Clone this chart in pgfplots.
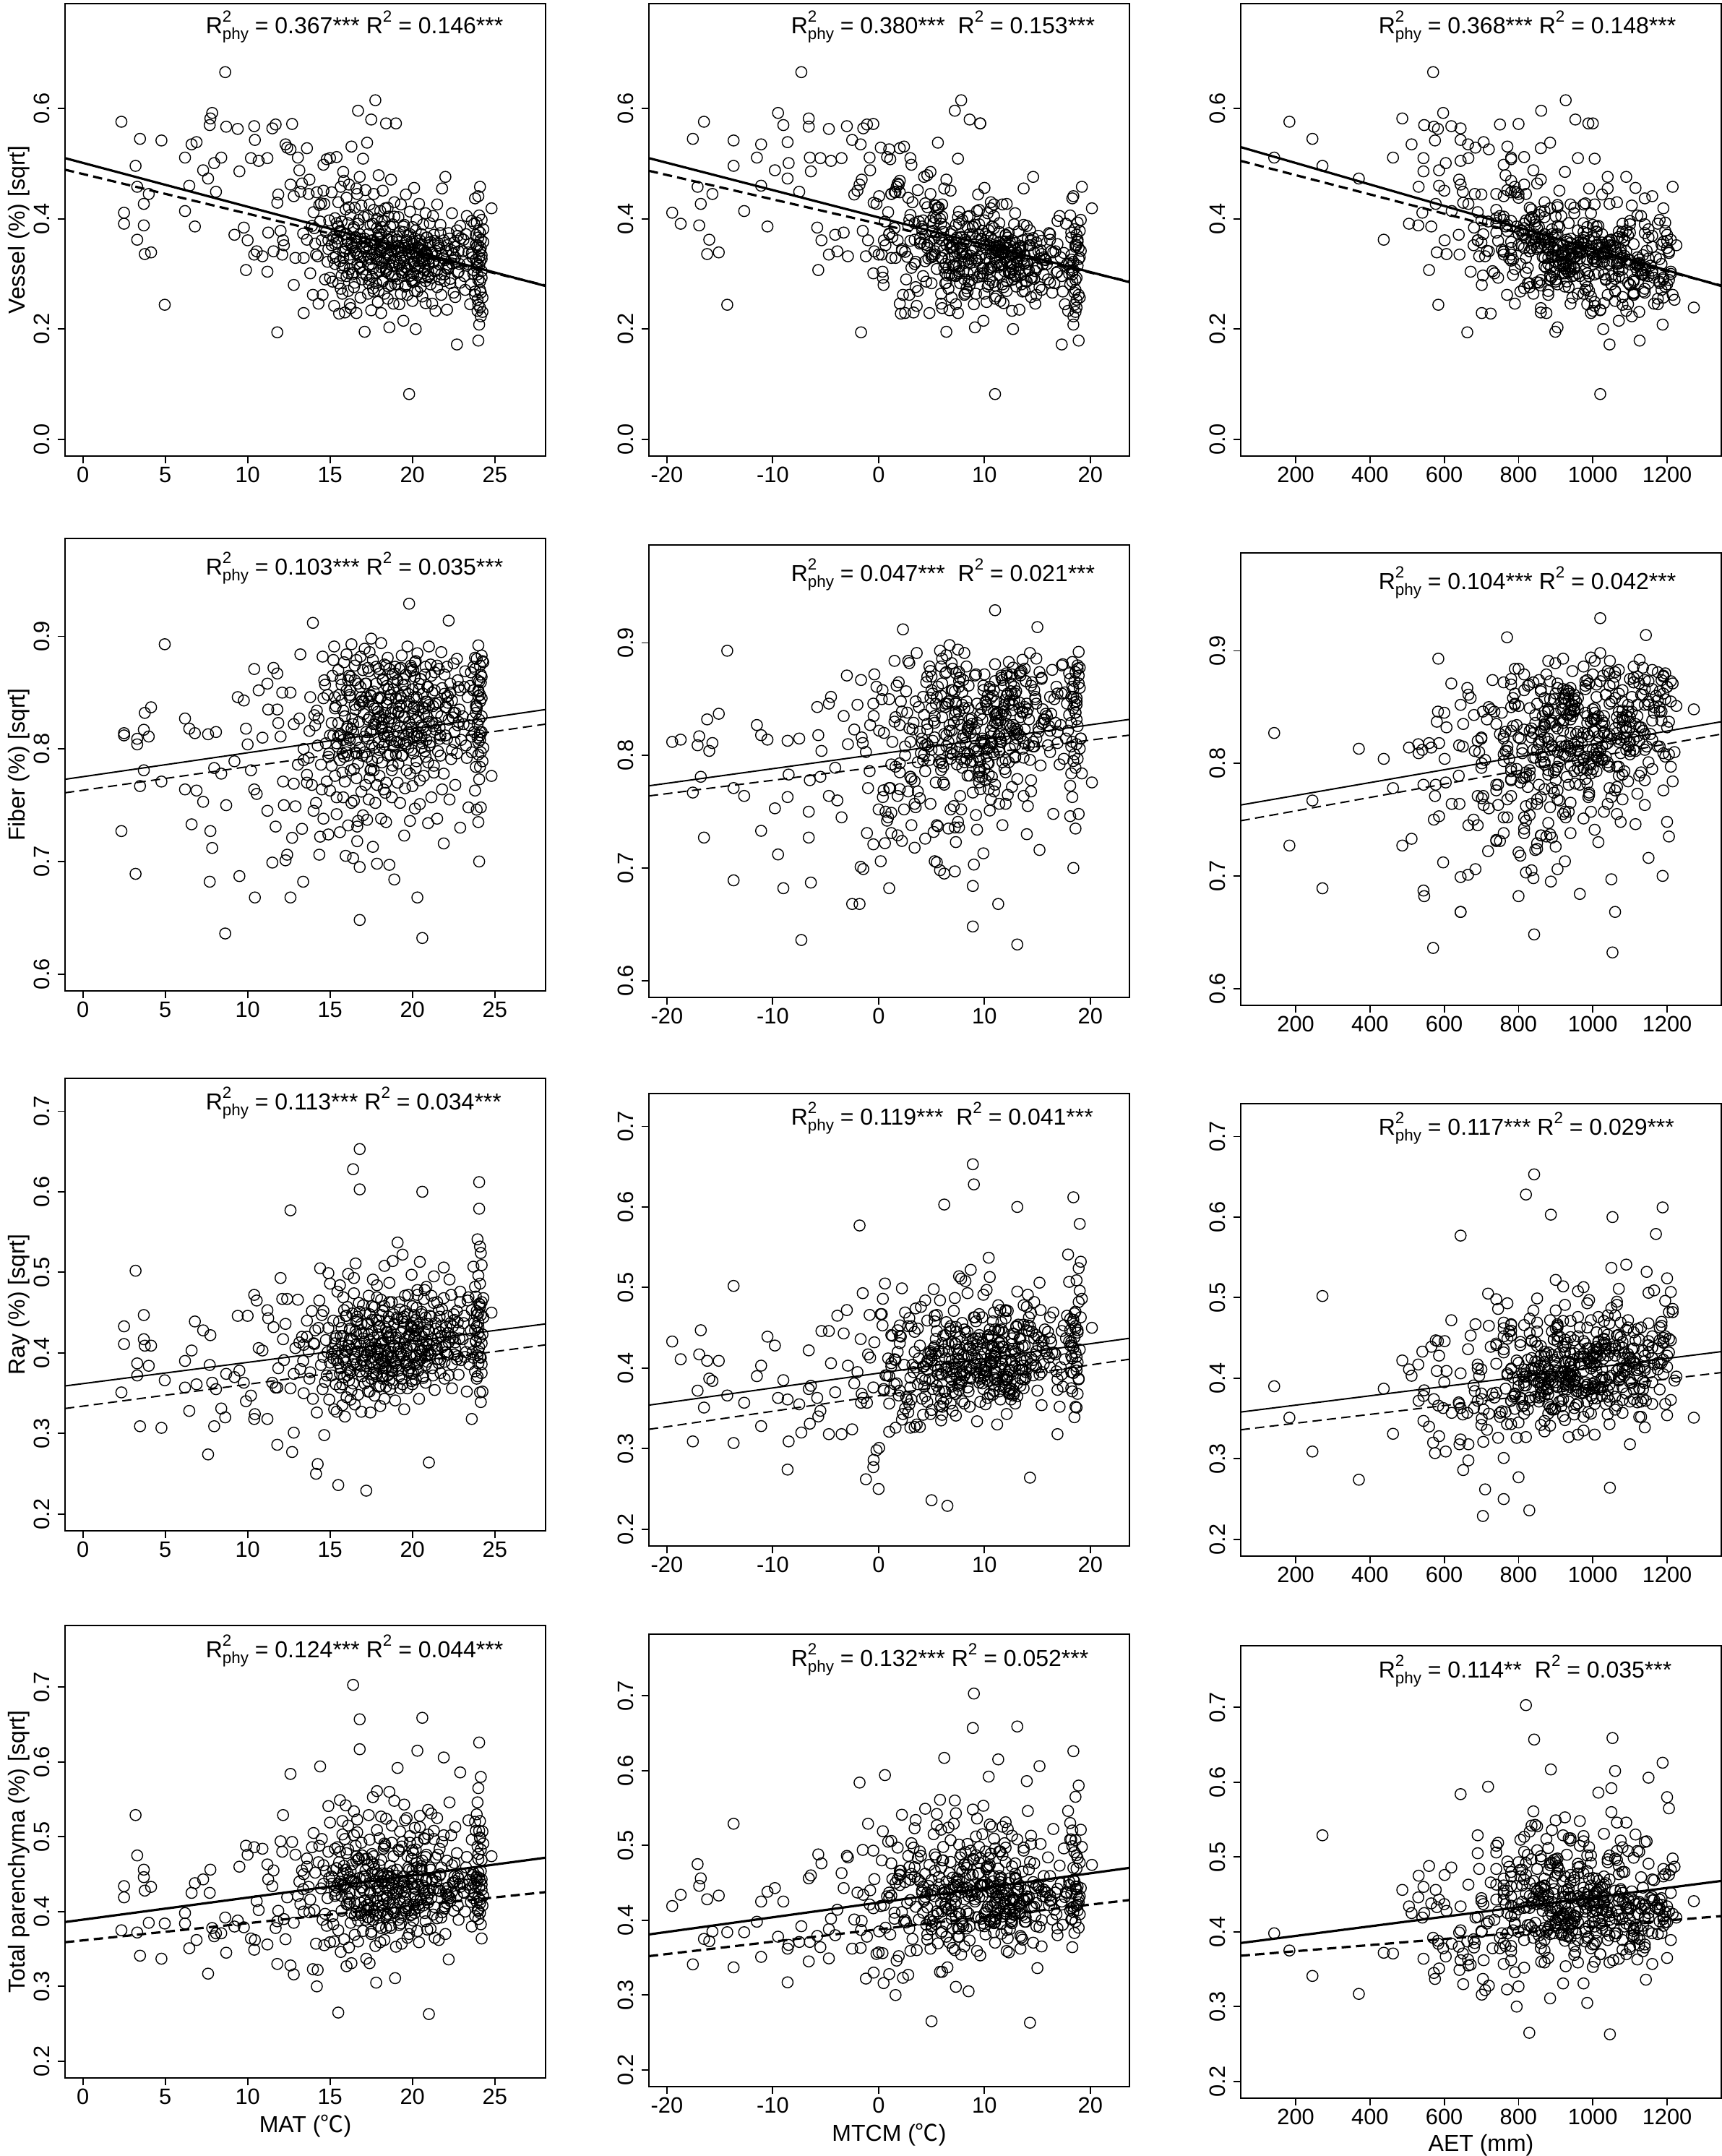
\documentclass[border=0pt]{standalone}
\usepackage{pgfplots}
\usepackage{pgfplotstable}
\pgfplotsset{compat=1.18}
\usepackage{fontspec}
\setmainfont{Liberation Sans}
\newfontfamily\cjk{Noto Sans CJK SC}
\newcommand{\scr}{\fontsize{5.6}{6}\selectfont}
\newcommand{\Rphy}{R\rlap{\raisebox{0.5em}{\scr 2}}\raisebox{-0.25em}{\scr phy}}
\newcommand{\Rsq}{R\raisebox{0.5em}{\scr 2}}
\newcommand{\annot}[2]{\node[anchor=base west, inner sep=0pt, font=\fontsize{8}{9}\selectfont] at (axis description cs:#1) {#2};}

\pgfplotstableread{
mat mtcm aet v f r p
2.34 -16.5 183 0.576 0.727 0.351 0.375
2.5 -19.5 541 0.411 0.812 0.433 0.419
2.5 -18.7 505 0.391 0.814 0.411 0.434
3.2 -13.7 272 0.496 0.689 0.502 0.529
3.3 -17.1 531 0.458 0.809 0.372 0.475
3.3 -16.0 437 0.362 0.804 0.387 0.372
3.47 -17.55 245 0.545 0.767 0.309 0.341
3.7 -16.8 577 0.427 0.781 0.447 0.456
3.7 -16.95 530 0.388 0.817 0.417 0.446
3.76 -16.2 606 0.336 0.832 0.409 0.428
4.0 -15.7 682 0.445 0.811 0.384 0.385
4.14 -15.1 580 0.339 0.837 0.409 0.433
4.77 -13.7 575 0.542 0.771 0.307 0.337
4.97 -14.3 584 0.244 0.893 0.366 0.384
6.2 -11.5 142 0.511 0.827 0.390 0.398
6.2 -12.7 620 0.414 0.764 0.357 0.384
6.46 -11.1 586 0.460 0.818 0.328 0.351
6.6 -11.1 512 0.535 0.733 0.403 0.425
6.8 -10.5 565 0.386 0.814 0.439 0.438
6.9 -8.6 706 0.539 0.763 0.361 0.362
7.3 -9.8 586 0.488 0.753 0.428 0.443
7.6 -8.6 370 0.473 0.813 0.274 0.317
7.7 -9.0 546 0.570 0.682 0.385 0.425
7.74 -6.6 487 0.582 0.727 0.422 0.456
7.85 -9.5 597 0.592 0.712 0.363 0.378
7.97 -8.5 604 0.501 0.783 0.309 0.367
8.08 -7.5 650 0.449 0.815 0.355 0.371
8.4 -6.5 462 0.511 0.778 0.331 0.371
8.7 -6.6 572 0.567 0.750 0.374 0.345
8.64 -7.3 570 0.666 0.636 0.320 0.392
9.4 -4.7 583 0.563 0.846 0.446 0.388
9.5 -6.4 544 0.486 0.687 0.378 0.460
9.2 -4.1 639 0.371 0.789 0.370 0.380
9.77 -5.8 680 0.384 0.843 0.363 0.379
9.9 -5.7 559 0.307 0.818 0.340 0.488
10.0 -5.4 601 0.361 0.804 0.446 0.476
10.2 -5.5 544 0.510 0.781 0.347 0.364
10.4 -3.0 619 0.568 0.871 0.472 0.486
10.44 -2.5 644 0.543 0.668 0.324 0.362
10.4 -4.7 641 0.335 0.764 0.318 0.349
10.67 -4.5 644 0.505 0.852 0.406 0.402
10.55 -3.9 720 0.341 0.760 0.465 0.414
10.9 -2.9 694 0.332 0.810 0.403 0.484
11.2 -3.5 665 0.510 0.745 0.318 0.463
11.2 0.37 671 0.304 0.858 0.453 0.356
11.25 -3.3 740 0.375 0.835 0.443 0.443
11.5 -1.45 644 0.564 0.699 0.363 0.434
11.7 -1.1 750 0.571 0.731 0.357 0.378
11.57 -0.4 760 0.341 0.872 0.432 0.455
11.8 -0.47 651 0.429 0.835 0.286 0.330
11.86 -2.3 700 0.444 0.823 0.381 0.401
11.8 -1.66 662 0.194 0.867 0.357 0.387
12.0 -1.5 770 0.378 0.811 0.493 0.494
12.1 0.3 780 0.335 0.850 0.467 0.480
12.15 -1.0 690 0.361 0.771 0.417 0.529
12.2 0.65 679 0.352 0.750 0.391 0.390
12.3 -1.7 664 0.535 0.701 0.436 0.363
12.4 0.2 684 0.529 0.706 0.467 0.419
12.6 1.0 720 0.526 0.850 0.356 0.328
12.7 -0.5 800 0.572 0.721 0.277 0.493
12.6 -1.8 644 0.462 0.668 0.577 0.584
12.8 0.05 760 0.441 0.822 0.301 0.385
12.8 0.47 701 0.280 0.769 0.374 0.316
12.9 1.2 820 0.329 0.749 0.406 0.476
13.05 -0.85 780 0.511 0.786 0.466 0.421
13.14 -0.8 840 0.488 0.827 0.413 0.440
13.2 1.5 790 0.449 0.884 0.380 0.410
13.3 1.8 850 0.464 0.729 0.420 0.455
13.37 1.0 800 0.373 0.682 0.390 0.430
13.4 2.5 701 0.229 0.800 0.350 0.400
13.4 1.6 880 0.329 0.790 0.410 0.450
13.6 2.0 860 0.528 0.770 0.440 0.460
13.7 1.2 820 0.445 0.792 0.402 0.433
13.8 -0.5 735 0.301 0.846 0.376 0.416
13.9 2.8 905 0.387 0.768 0.452 0.486
13.96 2.3 769 0.262 0.912 0.343 0.323
14.0 0.9 690 0.412 0.745 0.412 0.505
14.1 3.9 860 0.355 0.821 0.428 0.452
14.2 1.6 795 0.448 0.834 0.326 0.300
14.25 -1.2 710 0.332 0.803 0.262 0.322
14.3 2.0 940 0.246 0.827 0.431 0.466
14.4 0.6 718 0.395 0.722 0.505 0.594
14.45 4.4 980 0.428 0.786 0.385 0.431
14.5 1.8 835 0.361 0.764 0.447 0.497
14.6 3.1 760 0.498 0.738 0.452 0.462
14.65 -0.2 665 0.427 0.861 0.298 0.355
14.7 2.6 885 0.290 0.857 0.364 0.397
14.75 5.0 1010 0.376 0.805 0.416 0.454
14.8 1.1 780 0.508 0.771 0.372 0.381
14.85 3.5 920 0.322 0.848 0.401 0.418
14.9 2.2 850 0.345 0.724 0.499 0.541
14.95 4.2 700 0.397 0.796 0.342 0.445
15.0 0.4 745 0.293 0.763 0.486 0.519
15.0 3.0 960 0.510 0.812 0.388 0.359
13.6 3.4 870 0.362 0.777 0.420 0.471
13.75 -1.6 640 0.471 0.816 0.368 0.399
14.15 0.0 760 0.335 0.752 0.250 0.357
14.55 2.9 1040 0.262 0.882 0.355 0.389
14.35 5.3 905 0.425 0.706 0.465 0.488
14.05 1.5 815 0.383 0.830 0.411 0.402
14.9 6.0 1085 0.361 0.793 0.431 0.480
14.6 -2.0 600 0.451 0.845 0.395 0.437
15.1 2.0 780 0.448 0.785 0.372 0.447
15.15 4.5 930 0.286 0.865 0.405 0.394
15.2 1.3 850 0.367 0.812 0.440 0.455
15.25 3.6 1005 0.242 0.891 0.330 0.360
15.3 5.4 740 0.401 0.776 0.418 0.484
15.35 2.7 890 0.331 0.838 0.361 0.423
15.4 0.8 815 0.512 0.742 0.391 0.432
15.45 4.0 960 0.357 0.802 0.476 0.486
15.5 5.0 829 0.283 0.870 0.236 0.265
15.5 3.2 870 0.430 0.823 0.404 0.375
15.55 2.1 725 0.228 0.848 0.439 0.466
15.6 6.1 1080 0.376 0.790 0.357 0.480
15.6 4.4 900 0.323 0.726 0.484 0.549
15.65 1.7 790 0.458 0.862 0.381 0.346
15.7 3.8 845 0.395 0.843 0.412 0.401
15.75 5.9 975 0.264 0.796 0.335 0.521
15.8 2.5 760 0.340 0.808 0.469 0.451
15.8 4.9 925 0.485 0.757 0.421 0.434
15.85 7.0 1120 0.315 0.877 0.370 0.363
15.9 3.3 860 0.230 0.829 0.395 0.497
15.9 1.0 705 0.372 0.771 0.321 0.437
15.95 5.5 835 0.417 0.705 0.446 0.542
16.0 4.2 945 0.296 0.852 0.402 0.410
16.0 2.8 800 0.438 0.884 0.345 0.327
16.05 6.4 1010 0.353 0.818 0.457 0.452
16.1 3.7 880 0.269 0.794 0.380 0.483
16.1 5.2 740 0.392 0.732 0.498 0.515
16.15 1.9 815 0.462 0.865 0.366 0.352
16.2 4.7 965 0.328 0.808 0.418 0.446
16.2 7.3 1095 0.245 0.846 0.430 0.425
16.25 3.0 855 0.407 0.781 0.376 0.454
16.3 5.8 920 0.351 0.893 0.353 0.331
16.3 2.4 770 0.531 0.752 0.404 0.398
16.35 6.7 1030 0.299 0.827 0.449 0.463
16.4 9.0 820 0.302 0.703 0.628 0.703
16.4 4.1 890 0.381 0.815 0.362 0.440
16.45 3.5 830 0.276 0.754 0.474 0.534
16.5 5.6 950 0.420 0.861 0.392 0.369
16.5 2.2 715 0.342 0.839 0.336 0.411
16.55 7.8 1070 0.367 0.797 0.511 0.488
16.6 4.8 875 0.229 0.879 0.386 0.400
16.6 6.2 990 0.455 0.774 0.423 0.437
16.65 3.4 805 0.318 0.718 0.445 0.523
16.7 7.2 861 0.596 0.736 0.401 0.360
16.7 5.0 925 0.335 0.858 0.348 0.388
16.75 2.9 760 0.398 0.824 0.462 0.471
16.8 8.9 842 0.372 0.648 0.653 0.657
16.8 6.2 887 0.311 0.695 0.603 0.617
16.8 4.3 1040 0.476 0.801 0.377 0.426
16.85 6.9 945 0.257 0.882 0.409 0.412
16.9 3.9 820 0.364 0.762 0.327 0.492
16.9 5.4 1105 0.424 0.846 0.436 0.395
16.95 8.1 900 0.290 0.794 0.391 0.475
17.0 4.6 780 0.347 0.870 0.459 0.374
17.0 7.5 1005 0.509 0.741 0.418 0.447
15.2 5.9 1000 0.329 0.879 0.393 0.383
15.4 3.4 935 0.392 0.757 0.327 0.458
15.65 6.6 1140 0.273 0.812 0.421 0.436
15.85 2.0 780 0.469 0.793 0.453 0.461
16.05 0.5 690 0.361 0.820 0.372 0.420
16.25 6.0 860 0.238 0.864 0.342 0.385
16.45 8.4 985 0.385 0.782 0.493 0.502
16.65 1.2 740 0.445 0.731 0.441 0.506
16.85 5.1 955 0.332 0.855 0.384 0.398
15.3 4.3 885 0.354 0.836 0.402 0.428
15.75 3.1 825 0.311 0.779 0.361 0.503
16.15 4.6 905 0.421 0.810 0.409 0.417
16.55 5.3 870 0.365 0.835 0.427 0.440
16.95 6.3 935 0.302 0.843 0.371 0.432
15.95 7.4 1015 0.346 0.803 0.388 0.456
17.05 5.2 835 0.403 0.831 0.425 0.406
17.1 6.4 899 0.195 0.889 0.362 0.415
17.1 8.3 1045 0.358 0.797 0.401 0.470
17.15 3.7 770 0.452 0.768 0.449 0.455
17.2 6.5 704 0.297 0.846 0.229 0.337
17.2 7.9 960 0.341 0.815 0.384 0.444
17.25 5.6 885 0.538 0.737 0.398 0.409
17.3 9.2 1110 0.264 0.872 0.437 0.404
17.3 4.4 810 0.372 0.809 0.365 0.462
17.35 7.1 920 0.316 0.755 0.471 0.529
17.4 6.0 975 0.426 0.886 0.352 0.331
17.4 8.8 860 0.289 0.828 0.416 0.438
17.45 3.0 745 0.360 0.781 0.326 0.427
17.5 8.6 953 0.580 0.782 0.403 0.373
17.5 6.7 1020 0.234 0.898 0.389 0.370
17.55 5.3 890 0.335 0.816 0.458 0.466
17.6 7.6 1080 0.391 0.839 0.373 0.389
17.6 9.9 925 0.310 0.713 0.491 0.553
17.65 4.9 800 0.445 0.851 0.419 0.400
17.7 7.0 870 0.353 0.801 0.347 0.457
17.75 7.8 927 0.615 0.752 0.392 0.354
17.8 6.3 1150 0.283 0.873 0.441 0.418
17.8 8.5 985 0.327 0.826 0.371 0.305
17.85 5.8 840 0.400 0.698 0.484 0.561
17.9 10.2 1005 0.249 0.845 0.395 0.414
17.9 7.4 895 0.366 0.792 0.423 0.451
17.95 4.6 765 0.479 0.828 0.358 0.381
18.0 8.0 940 0.305 0.867 0.405 0.392
18.0 6.1 1060 0.342 0.776 0.440 0.498
18.05 9.3 870 0.414 0.846 0.334 0.359
18.1 7.5 995 0.229 0.894 0.412 0.378
18.1 5.5 815 0.371 0.738 0.466 0.527
18.15 8.7 1125 0.320 0.820 0.387 0.440
18.2 6.8 910 0.451 0.802 0.452 0.420
18.2 10.5 1035 0.289 0.861 0.368 0.401
18.25 7.7 850 0.348 0.764 0.395 0.484
18.3 4.9 780 0.396 0.875 0.343 0.362
18.3 8.2 960 0.264 0.811 0.508 0.491
18.35 9.8 1090 0.378 0.832 0.381 0.432
18.4 9.6 988 0.573 0.770 0.358 0.393
18.4 6.6 875 0.311 0.735 0.430 0.524
18.45 7.9 935 0.336 0.856 0.396 0.395
18.5 11.0 1175 0.255 0.881 0.419 0.397
18.5 5.7 830 0.420 0.794 0.372 0.448
18.55 8.4 1015 0.301 0.824 0.445 0.438
18.6 9.1 905 0.203 0.871 0.463 0.428
18.6 7.2 1050 0.362 0.697 0.487 0.560
18.65 10.1 950 0.329 0.848 0.355 0.381
18.7 6.4 860 0.471 0.808 0.401 0.378
18.7 8.6 1100 0.280 0.832 0.426 0.446
18.75 11.4 995 0.350 0.757 0.378 0.492
18.8 7.6 920 0.314 0.866 0.514 0.454
18.8 9.5 1140 0.390 0.785 0.394 0.431
18.85 5.9 790 0.246 0.853 0.362 0.423
18.9 8.9 965 0.342 0.684 0.436 0.548
18.9 10.6 1065 0.430 0.822 0.409 0.398
18.95 7.3 885 0.296 0.873 0.341 0.311
19.0 9.6 1000 0.573 0.795 0.387 0.353
17.35 5.0 1120 0.330 0.842 0.410 0.392
17.65 8.4 805 0.268 0.822 0.376 0.474
17.95 6.9 1010 0.377 0.806 0.432 0.428
18.25 9.9 940 0.356 0.813 0.389 0.446
18.55 6.0 900 0.404 0.844 0.420 0.412
18.85 8.1 1030 0.322 0.803 0.448 0.474
17.15 7.0 960 0.348 0.858 0.396 0.389
17.55 9.5 1070 0.295 0.789 0.441 0.477
17.85 7.2 890 0.332 0.836 0.405 0.432
18.15 6.2 855 0.385 0.819 0.371 0.441
18.45 10.3 1080 0.308 0.841 0.425 0.418
18.75 7.8 975 0.366 0.827 0.382 0.437
18.05 7.1 920 0.340 0.829 0.393 0.447
17.45 6.6 915 0.327 0.848 0.402 0.415
19.05 8.2 930 0.362 0.816 0.444 0.456
19.1 10.4 1050 0.281 0.770 0.537 0.592
19.15 7.5 870 0.403 0.832 0.378 0.389
19.2 11.6 1125 0.318 0.871 0.412 0.382
19.2 9.0 985 0.245 0.806 0.463 0.481
19.25 6.8 815 0.347 0.752 0.356 0.507
19.3 10.9 1005 0.426 0.839 0.425 0.384
19.35 12.3 1160 0.302 0.883 0.368 0.357
19.4 8.7 900 0.333 0.794 0.522 0.493
19.45 9.9 1070 0.215 0.862 0.397 0.447
19.5 7.3 845 0.389 0.723 0.445 0.543
19.5 11.2 960 0.351 0.828 0.330 0.413
19.55 13.0 1195 0.277 0.857 0.452 0.426
19.6 9.4 1025 0.444 0.804 0.389 0.404
19.65 10.7 935 0.312 0.781 0.406 0.525
19.7 8.1 880 0.262 0.891 0.356 0.365
19.75 12.0 1095 0.370 0.815 0.472 0.443
19.8 11.0 1020 0.082 0.929 0.386 0.370
19.8 9.7 945 0.336 0.842 0.423 0.402
19.85 7.6 860 0.413 0.736 0.381 0.501
19.9 13.4 1140 0.297 0.874 0.410 0.379
19.95 10.2 990 0.345 0.799 0.497 0.471
20.0 11.5 1060 0.251 0.831 0.361 0.455
20.0 8.9 910 0.385 0.767 0.431 0.482
20.05 12.4 1010 0.322 0.870 0.375 0.388
20.1 10.0 1115 0.456 0.811 0.418 0.409
20.1 14.0 1180 0.286 0.846 0.447 0.432
20.15 9.2 880 0.364 0.747 0.395 0.512
20.2 12.7 1028 0.200 0.878 0.424 0.430
20.2 10.8 955 0.338 0.826 0.367 0.420
20.25 7.9 830 0.398 0.789 0.456 0.465
20.3 11.3 1060 0.349 0.668 0.478 0.615
20.3 13.6 1135 0.268 0.885 0.386 0.374
20.35 9.8 925 0.310 0.815 0.432 0.447
20.4 12.1 1045 0.427 0.853 0.343 0.359
20.45 10.5 975 0.355 0.751 0.513 0.528
20.5 14.4 1190 0.293 0.862 0.405 0.417
20.55 8.6 870 0.372 0.801 0.398 0.461
20.6 13.1 1053 0.323 0.632 0.600 0.659
20.6 11.1 995 0.259 0.837 0.420 0.435
20.65 12.8 1100 0.390 0.819 0.371 0.408
20.7 9.5 905 0.331 0.776 0.467 0.498
20.75 13.9 1160 0.306 0.866 0.395 0.398
20.8 11.8 1030 0.247 0.842 0.444 0.441
20.8 10.3 950 0.410 0.793 0.363 0.473
20.85 14.7 1205 0.338 0.808 0.482 0.476
20.9 12.2 1080 0.366 0.855 0.389 0.376
20.95 9.3 890 0.294 0.734 0.429 0.536
21.0 14.3 1046 0.352 0.891 0.264 0.263
21.0 12.5 1120 0.318 0.824 0.410 0.424
19.25 10.1 940 0.329 0.847 0.402 0.411
19.65 11.9 1040 0.358 0.818 0.385 0.433
20.05 9.6 985 0.301 0.836 0.437 0.447
20.45 12.9 1075 0.345 0.809 0.402 0.457
20.85 11.0 1000 0.327 0.829 0.415 0.442
19.45 11.4 975 0.376 0.805 0.431 0.441
19.95 12.6 1110 0.289 0.872 0.374 0.396
20.25 10.6 1020 0.337 0.811 0.428 0.459
21.05 11.4 975 0.392 0.803 0.446 0.459
21.1 13.5 1100 0.281 0.875 0.398 0.377
21.15 12.0 1030 0.338 0.757 0.471 0.531
21.2 14.8 1165 0.246 0.850 0.417 0.443
21.25 10.9 915 0.405 0.820 0.372 0.396
21.3 13.1 1065 0.321 0.779 0.495 0.508
21.35 15.4 1200 0.360 0.868 0.354 0.365
21.4 12.6 1000 0.233 0.840 0.430 0.472
21.5 11.7 940 0.426 0.738 0.405 0.525
21.5 14.2 1130 0.306 0.832 0.463 0.431
21.6 13.4 1055 0.351 0.871 0.387 0.362
21.65 16.0 1190 0.290 0.809 0.445 0.484
21.7 12.3 985 0.374 0.794 0.392 0.450
21.75 14.9 1110 0.262 0.886 0.421 0.392
21.8 13.7 1040 0.455 0.764 0.454 0.493
21.9 15.2 1150 0.328 0.716 0.506 0.606
21.95 12.8 1005 0.299 0.849 0.368 0.407
22.0 14.6 1090 0.476 0.812 0.410 0.370
22.05 16.3 1205 0.341 0.837 0.432 0.427
22.1 13.3 1020 0.235 0.873 0.398 0.411
22.2 15.0 1143 0.312 0.914 0.372 0.336
22.25 14.1 1065 0.364 0.755 0.491 0.546
22.3 16.6 1180 0.283 0.850 0.419 0.414
22.4 12.9 995 0.410 0.799 0.356 0.462
22.5 15.7 1125 0.326 0.832 0.448 0.438
22.6 14.4 1080 0.258 0.768 0.413 0.513
22.7 17.3 1045 0.172 0.880 0.392 0.421
22.75 15.1 1160 0.369 0.821 0.438 0.447
22.8 16.9 1210 0.304 0.855 0.373 0.389
22.9 14.0 1015 0.387 0.730 0.476 0.586
21.45 13.8 1085 0.333 0.823 0.409 0.440
22.15 15.5 1100 0.317 0.841 0.425 0.432
22.55 13.6 1035 0.349 0.806 0.398 0.465
23.1 16.2 1050 0.362 0.822 0.437 0.426
23.2 15.4 980 0.271 0.869 0.395 0.400
23.3 17.1 1130 0.405 0.792 0.352 0.473
23.4 16.5 1075 0.339 0.748 0.469 0.522
23.5 17.6 1175 0.245 0.856 0.411 0.431
23.6 16.9 1100 0.396 0.811 0.318 0.380
23.7 18.0 1210 0.300 0.873 0.507 0.452
23.8 18.3 1140 0.437 0.763 0.428 0.520
23.8 17.4 1060 0.268 0.881 0.377 0.394
23.85 18.6 1185 0.353 0.838 0.470 0.445
23.9 18.1 1115 0.312 0.746 0.447 0.530
23.9 18.8 1195 0.393 0.880 0.368 0.413
23.95 17.9 1090 0.233 0.822 0.541 0.546
24.0 18.9 1126 0.179 0.892 0.387 0.390
24.0 18.4 1160 0.441 0.795 0.425 0.470
24.0 18.6 1205 0.289 0.735 0.449 0.565
24.05 18.4 1188 0.208 0.700 0.612 0.626
24.05 19.0 1170 0.330 0.860 0.579 0.432
24.1 18.2 1100 0.375 0.808 0.395 0.416
24.1 18.7 1272 0.239 0.848 0.351 0.441
24.1 19.2 1215 0.458 0.784 0.486 0.498
24.15 18.5 1140 0.266 0.866 0.339 0.383
24.15 18.9 1200 0.347 0.748 0.524 0.580
24.2 18.3 1070 0.305 0.883 0.412 0.364
24.2 19.1 1180 0.398 0.815 0.463 0.443
24.25 18.6 1125 0.231 0.789 0.352 0.507
24.3 18.8 1190 0.358 0.877 0.444 0.421
24.8 20.15 1190 0.419 0.776 0.450 0.474
23.65 17.2 1030 0.330 0.827 0.401 0.449
24.0 18.2 1150 0.366 0.852 0.432 0.401
23.95 18.7 1220 0.253 0.810 0.397 0.487
24.1 18.4 1090 0.322 0.842 0.460 0.411
17.05 8.1 865 0.331 0.842 0.391 0.428
17.1 9.7 940 0.364 0.811 0.414 0.447
17.2 6.9 785 0.298 0.858 0.377 0.402
17.25 10.4 1010 0.352 0.793 0.436 0.471
17.3 8.6 750 0.405 0.826 0.352 0.392
17.35 7.7 825 0.283 0.869 0.423 0.409
17.4 11.0 895 0.347 0.774 0.448 0.496
17.45 9.1 770 0.389 0.815 0.406 0.425
17.5 7.3 880 0.318 0.847 0.368 0.405
17.55 10.8 975 0.361 0.803 0.427 0.452
17.6 8.3 815 0.274 0.879 0.395 0.389
17.65 9.5 740 0.416 0.781 0.382 0.463
17.7 11.6 1030 0.338 0.836 0.457 0.437
17.75 6.7 700 0.357 0.822 0.411 0.441
17.8 9.9 920 0.301 0.858 0.374 0.396
17.85 10.9 850 0.383 0.768 0.469 0.509
17.9 8.8 785 0.326 0.833 0.401 0.433
17.95 12.1 990 0.269 0.871 0.386 0.408
18.0 9.4 870 0.372 0.799 0.433 0.462
18.05 7.9 755 0.344 0.845 0.359 0.398
18.1 11.3 950 0.312 0.817 0.447 0.469
18.15 10.0 820 0.397 0.788 0.391 0.451
18.2 8.5 900 0.286 0.862 0.415 0.409
18.25 12.4 1045 0.351 0.826 0.372 0.416
18.3 9.2 775 0.328 0.804 0.458 0.487
18.35 10.6 885 0.419 0.761 0.404 0.489
18.4 7.6 730 0.305 0.874 0.381 0.378
18.45 11.8 1000 0.339 0.839 0.426 0.421
18.5 9.7 840 0.363 0.812 0.398 0.446
18.55 10.3 925 0.277 0.853 0.439 0.438
18.6 12.7 1065 0.318 0.827 0.366 0.428
18.65 8.9 795 0.386 0.795 0.422 0.461
18.7 11.1 880 0.343 0.848 0.395 0.403
18.75 9.8 965 0.296 0.781 0.463 0.515
18.8 12.0 845 0.359 0.836 0.377 0.412
18.85 10.5 1010 0.322 0.859 0.408 0.399
18.9 8.4 760 0.404 0.802 0.436 0.443
18.95 11.7 905 0.281 0.867 0.389 0.405
18.15 9.1 835 0.347 0.823 0.412 0.438
18.55 11.5 935 0.334 0.815 0.402 0.451
19.0 11.9 940 0.327 0.845 0.419 0.425
19.05 10.3 865 0.368 0.806 0.384 0.448
19.1 12.8 1035 0.291 0.861 0.442 0.427
19.15 9.6 810 0.351 0.787 0.405 0.483
19.2 11.4 910 0.315 0.838 0.371 0.416
19.25 13.2 1070 0.377 0.819 0.454 0.441
19.3 10.0 840 0.264 0.872 0.398 0.392
19.35 11.7 965 0.339 0.794 0.427 0.487
19.4 12.5 895 0.302 0.857 0.361 0.398
19.45 10.7 1010 0.386 0.812 0.439 0.439
19.5 9.3 780 0.324 0.829 0.412 0.435
19.55 12.2 940 0.347 0.765 0.471 0.522
19.6 11.0 860 0.279 0.866 0.388 0.401
19.65 13.6 1085 0.361 0.838 0.403 0.407
19.7 10.5 925 0.309 0.807 0.448 0.474
19.75 11.9 830 0.341 0.849 0.376 0.409
19.8 12.9 990 0.296 0.824 0.421 0.456
19.85 10.1 890 0.372 0.778 0.396 0.492
19.9 11.6 1045 0.318 0.869 0.433 0.395
19.95 13.1 915 0.338 0.815 0.365 0.438
20.0 10.8 850 0.285 0.853 0.458 0.437
20.05 12.0 975 0.354 0.796 0.409 0.478
20.1 11.2 920 0.322 0.838 0.386 0.423
20.15 13.8 1060 0.269 0.877 0.428 0.398
20.2 10.4 805 0.379 0.783 0.441 0.483
20.25 12.3 950 0.331 0.846 0.397 0.414
20.3 11.5 885 0.297 0.812 0.472 0.492
20.35 13.4 1025 0.348 0.834 0.378 0.409
20.4 10.9 870 0.314 0.858 0.415 0.405
20.45 12.6 990 0.361 0.772 0.437 0.513
20.5 11.8 935 0.276 0.862 0.392 0.416
20.55 13.0 1075 0.329 0.821 0.451 0.455
20.6 10.2 840 0.353 0.805 0.403 0.468
20.65 12.4 960 0.301 0.849 0.369 0.427
20.7 11.3 905 0.343 0.831 0.426 0.432
20.75 13.7 1040 0.318 0.798 0.478 0.497
20.8 12.1 980 0.287 0.873 0.385 0.387
20.85 10.6 855 0.366 0.817 0.412 0.443
20.9 13.3 1015 0.334 0.842 0.436 0.419
20.95 11.9 930 0.305 0.788 0.398 0.503
19.15 11.1 900 0.342 0.833 0.395 0.431
19.55 10.6 950 0.312 0.851 0.417 0.418
19.95 11.4 880 0.358 0.819 0.432 0.447
20.35 12.1 1005 0.323 0.828 0.389 0.436
20.75 11.0 920 0.339 0.836 0.407 0.424
19.35 12.7 980 0.307 0.845 0.443 0.427
19.75 10.9 860 0.349 0.801 0.378 0.459
20.15 12.5 935 0.314 0.864 0.421 0.404
20.55 11.6 895 0.344 0.812 0.448 0.457
20.95 12.9 1050 0.296 0.855 0.403 0.412
21.0 13.6 1010 0.327 0.839 0.427 0.429
21.1 12.4 930 0.358 0.806 0.398 0.456
21.15 14.5 1080 0.293 0.865 0.445 0.418
21.2 13.1 970 0.339 0.823 0.381 0.441
21.3 12.0 900 0.371 0.785 0.462 0.497
21.35 14.8 1120 0.305 0.852 0.403 0.406
21.4 13.4 1035 0.342 0.817 0.437 0.446
21.5 15.2 985 0.276 0.874 0.392 0.391
21.55 12.9 940 0.356 0.798 0.418 0.476
21.6 14.1 1065 0.318 0.841 0.453 0.428
21.7 13.7 1000 0.389 0.812 0.375 0.427
21.75 15.6 1135 0.299 0.829 0.434 0.459
21.8 12.6 915 0.334 0.854 0.407 0.399
21.9 14.4 1045 0.361 0.778 0.468 0.502
21.95 13.9 980 0.287 0.866 0.389 0.404
22.0 15.8 1100 0.325 0.837 0.421 0.431
22.1 14.2 1015 0.352 0.809 0.446 0.468
22.15 13.3 950 0.309 0.847 0.398 0.422
22.2 16.1 1140 0.374 0.826 0.413 0.420
22.3 14.7 1060 0.291 0.858 0.437 0.418
22.35 15.3 995 0.343 0.791 0.472 0.502
22.4 13.8 930 0.319 0.843 0.386 0.426
22.5 16.4 1110 0.266 0.876 0.419 0.401
22.55 14.9 1025 0.357 0.815 0.441 0.447
22.6 15.6 1080 0.330 0.832 0.405 0.441
22.7 14.3 960 0.379 0.796 0.452 0.478
22.75 16.8 1135 0.302 0.861 0.396 0.408
22.8 15.1 1040 0.341 0.824 0.428 0.444
22.9 16.2 1095 0.284 0.852 0.463 0.433
22.95 14.6 1005 0.365 0.808 0.391 0.451
21.25 14.0 1025 0.322 0.838 0.411 0.429
21.65 13.2 960 0.347 0.819 0.426 0.448
22.05 14.9 1070 0.311 0.846 0.401 0.423
22.45 15.4 1030 0.336 0.828 0.433 0.439
22.85 15.9 1115 0.318 0.835 0.418 0.437
23.05 16.7 1090 0.341 0.829 0.417 0.437
23.15 17.3 1150 0.296 0.855 0.446 0.425
23.25 16.2 1025 0.372 0.803 0.401 0.459
23.35 17.8 1185 0.318 0.846 0.465 0.436
23.45 16.9 1110 0.354 0.821 0.386 0.442
23.55 18.1 1200 0.281 0.868 0.428 0.413
23.6 17.5 1065 0.338 0.797 0.453 0.496
23.7 18.4 1140 0.307 0.852 0.394 0.418
23.75 17.7 1175 0.391 0.815 0.437 0.437
23.8 18.9 1215 0.262 0.871 0.482 0.424
23.85 18.2 1095 0.326 0.784 0.415 0.508
23.9 18.6 1160 0.349 0.838 0.452 0.442
23.95 18.3 1130 0.299 0.861 0.371 0.402
24.0 19.0 1195 0.378 0.806 0.496 0.477
24.0 18.5 1080 0.244 0.847 0.438 0.452
24.05 18.8 1155 0.315 0.826 0.407 0.445
24.05 18.1 1120 0.406 0.773 0.461 0.508
24.1 18.6 1185 0.271 0.874 0.419 0.398
24.1 19.1 1145 0.342 0.815 0.532 0.521
24.15 18.4 1105 0.223 0.859 0.394 0.454
24.15 18.8 1210 0.362 0.797 0.447 0.483
24.2 18.7 1165 0.293 0.845 0.509 0.469
24.2 18.2 1135 0.334 0.829 0.375 0.436
24.25 19.0 1190 0.257 0.878 0.423 0.408
24.3 18.5 1150 0.381 0.801 0.468 0.491
23.9 18.0 1070 0.319 0.836 0.433 0.447
24.0 18.7 1225 0.352 0.851 0.402 0.419
24.1 18.3 1110 0.286 0.812 0.457 0.499
24.2 18.9 1180 0.327 0.864 0.386 0.429
23.85 18.7 1200 0.371 0.832 0.414 0.434
15.1 4.6 800 0.352 0.823 0.398 0.437
15.3 6.3 880 0.318 0.846 0.412 0.421
15.5 4.1 765 0.386 0.811 0.387 0.437
15.7 7.2 950 0.297 0.857 0.431 0.421
15.9 5.3 830 0.341 0.829 0.403 0.432
16.0 6.8 905 0.372 0.797 0.446 0.478
16.2 5.5 790 0.309 0.852 0.378 0.412
16.3 8.0 970 0.356 0.818 0.417 0.442
16.5 6.4 855 0.284 0.874 0.395 0.395
16.6 7.7 920 0.337 0.808 0.439 0.468
16.7 5.9 815 0.391 0.787 0.402 0.470
16.9 8.5 985 0.322 0.842 0.424 0.432
15.4 5.7 845 0.364 0.805 0.421 0.458
15.8 6.0 870 0.329 0.834 0.392 0.436
16.1 7.6 925 0.301 0.861 0.409 0.409
16.4 6.9 880 0.348 0.822 0.386 0.441
16.8 7.3 940 0.313 0.839 0.451 0.445
15.6 5.1 810 0.378 0.813 0.374 0.440
16.2 8.3 1000 0.335 0.848 0.428 0.412
16.6 4.8 780 0.358 0.796 0.411 0.474
}\species

\pgfplotsset{
  rbase/.style={scale only axis, width=166.25pt, height=156.5pt, anchor=south west,
    axis line style={line width=0.45pt}, tick align=outside, tick pos=left,
    major tick length=2.6pt, every tick/.style={black, line width=0.45pt},
    tick label style={font=\fontsize{7.7}{9}\selectfont},
    xticklabel style={anchor=north, inner sep=0pt, yshift=-1pt},
    yticklabel style={xshift=-2.6pt, rotate=90, anchor=south, inner sep=0pt},
    clip mode=individual,
    /pgf/number format/assume math mode=true,
    xlabel style={font=\fontsize{8}{9}\selectfont, anchor=base, inner sep=0pt},
    ylabel style={font=\fontsize{8}{9}\selectfont, anchor=base, inner sep=0pt, at={(axis description cs:-0.0842,0.5)}},
  },
  c1/.style={xmin=-1.08, xmax=28.08, xtick={0,5,10,15,20,25}, xticklabels={0,5,10,15,20,25}},
  c2/.style={xmin=-21.7, xmax=23.7, xtick={-20,-10,0,10,20}, xticklabels={-20,-10,0,10,20}},
  c3/.style={xmin=52, xmax=1346, xtick={200,400,600,800,1000,1200}, xticklabels={200,400,600,800,1000,1200}},
  r1/.style={ymin=-0.0304, ymax=0.7904, ytick={0,0.2,0.4,0.6}, yticklabels={0.0,0.2,0.4,0.6}},
  r2/.style={ymin=0.585, ymax=0.987, ytick={0.6,0.7,0.8,0.9}, yticklabels={0.6,0.7,0.8,0.9}},
  r3/.style={ymin=0.1792, ymax=0.7408, ytick={0.2,0.3,0.4,0.5,0.6,0.7}, yticklabels={0.2,0.3,0.4,0.5,0.6,0.7}},
  r4/.style={ymin=0.1776, ymax=0.7824, ytick={0.2,0.3,0.4,0.5,0.6,0.7}, yticklabels={0.2,0.3,0.4,0.5,0.6,0.7}},
  pts/.style={only marks, mark=o, mark size=1.9pt, mark options={line width=0.35pt, black}},
  fitA/.style={black, line width=0.8pt},
  dashA/.style={black, line width=0.8pt, dash pattern=on 3.2pt off 1.8pt},
  fitB/.style={black, line width=0.5pt},
  dashB/.style={black, line width=0.5pt, dash pattern=on 3.2pt off 1.8pt},
}

\begin{document}
\begin{tikzpicture}
\useasboundingbox (0,0) rectangle (595.75pt,745.75pt);

% ---------- Row 1: Vessel ----------
\begin{axis}[rbase,c1,r1, at={(22.5pt,588pt)}, ylabel={Vessel (\%) [sqrt]}]
\addplot[pts] table[x=mat,y=v] {\species};
\addplot[dashA] coordinates {(-1.08,0.489) (28.08,0.279)};
\addplot[fitA] coordinates {(-1.08,0.510) (28.08,0.278)};
\annot{0.2917,0.9329}{\Rphy\ = 0.367*** \Rsq\ = 0.146***}
\end{axis}
\begin{axis}[rbase,c2,r1, at={(224.5pt,588pt)}]
\addplot[pts] table[x=mtcm,y=v] {\species};
\addplot[dashA] coordinates {(-21.7,0.487) (23.7,0.286)};
\addplot[fitA] coordinates {(-21.7,0.510) (23.7,0.285)};
\annot{0.2947,0.9329}{\Rphy\ = 0.380***\ \ \Rsq\ = 0.153***}
\end{axis}
\begin{axis}[rbase,c3,r1, at={(429.25pt,588pt)}]
\addplot[pts] table[x=aet,y=v] {\species};
\addplot[dashA] coordinates {(52,0.505) (1346,0.279)};
\addplot[fitA] coordinates {(52,0.530) (1346,0.278)};
\annot{0.2857,0.9329}{\Rphy\ = 0.368*** \Rsq\ = 0.148***}
\end{axis}

% ---------- Row 2: Fiber ----------
\begin{axis}[rbase,c1,r2, at={(22.5pt,403pt)}, ylabel={Fiber (\%) [sqrt]}]
\addplot[pts] table[x=mat,y=f] {\species};
\addplot[dashB] coordinates {(-1.08,0.761) (28.08,0.822)};
\addplot[fitB] coordinates {(-1.08,0.773) (28.08,0.835)};
\annot{0.2917,0.9185}{\Rphy\ = 0.103*** \Rsq\ = 0.035***}
\end{axis}
\begin{axis}[rbase,c2,r2, at={(224.5pt,400.75pt)}]
\addplot[pts] table[x=mtcm,y=f] {\species};
\addplot[dashB] coordinates {(-21.7,0.764) (23.7,0.818)};
\addplot[fitB] coordinates {(-21.7,0.773) (23.7,0.832)};
\annot{0.2947,0.9185}{\Rphy\ = 0.047***\ \ \Rsq\ = 0.021***}
\end{axis}
\begin{axis}[rbase,c3,r2, at={(429.25pt,398pt)}]
\addplot[pts] table[x=aet,y=f] {\species};
\addplot[dashB] coordinates {(52,0.749) (1346,0.826)};
\addplot[fitB] coordinates {(52,0.763) (1346,0.837)};
\annot{0.2857,0.9185}{\Rphy\ = 0.104*** \Rsq\ = 0.042***}
\end{axis}

% ---------- Row 3: Ray ----------
\begin{axis}[rbase,c1,r3, at={(22.5pt,216.25pt)}, ylabel={Ray (\%) [sqrt]}]
\addplot[pts] table[x=mat,y=r] {\species};
\addplot[dashB] coordinates {(-1.08,0.331) (28.08,0.410)};
\addplot[fitB] coordinates {(-1.08,0.359) (28.08,0.436)};
\annot{0.2917,0.9297}{\Rphy\ = 0.113*** \Rsq\ = 0.034***}
\end{axis}
\begin{axis}[rbase,c2,r3, at={(224.5pt,211pt)}]
\addplot[pts] table[x=mtcm,y=r] {\species};
\addplot[dashB] coordinates {(-21.7,0.324) (23.7,0.411)};
\addplot[fitB] coordinates {(-21.7,0.354) (23.7,0.437)};
\annot{0.2947,0.9297}{\Rphy\ = 0.119***\ \ \Rsq\ = 0.041***}
\end{axis}
\begin{axis}[rbase,c3,r3, at={(429.25pt,207.5pt)}]
\addplot[pts] table[x=aet,y=r] {\species};
\addplot[dashB] coordinates {(52,0.336) (1346,0.407)};
\addplot[fitB] coordinates {(52,0.358) (1346,0.433)};
\annot{0.2857,0.9297}{\Rphy\ = 0.117*** \Rsq\ = 0.029***}
\end{axis}

% ---------- Row 4: Total parenchyma ----------
\begin{axis}[rbase,c1,r4, at={(22.5pt,27pt)}, ylabel={Total parenchyma (\%) [sqrt]},
  xlabel={MAT ({\cjk ℃})}, xlabel style={at={(axis description cs:0.5,-0.120)}}]
\addplot[pts] table[x=mat,y=p] {\species};
\addplot[dashA] coordinates {(-1.08,0.359) (28.08,0.426)};
\addplot[fitA] coordinates {(-1.08,0.386) (28.08,0.472)};
\annot{0.2917,0.9297}{\Rphy\ = 0.124*** \Rsq\ = 0.044***}
\end{axis}
\begin{axis}[rbase,c2,r4, at={(224.5pt,24pt)},
  xlabel={MTCM ({\cjk ℃})}, xlabel style={at={(axis description cs:0.5,-0.121)}}]
\addplot[pts] table[x=mtcm,y=p] {\species};
\addplot[dashA] coordinates {(-21.7,0.352) (23.7,0.427)};
\addplot[fitA] coordinates {(-21.7,0.381) (23.7,0.470)};
\annot{0.2947,0.9297}{\Rphy\ = 0.132*** \Rsq\ = 0.052***}
\end{axis}
\begin{axis}[rbase,c3,r4, at={(429.25pt,20pt)},
  xlabel={AET (mm)}, xlabel style={at={(axis description cs:0.5,-0.117)}}]
\addplot[pts] table[x=aet,y=p] {\species};
\addplot[dashA] coordinates {(52,0.368) (1346,0.421)};
\addplot[fitA] coordinates {(52,0.385) (1346,0.468)};
\annot{0.2857,0.9297}{\Rphy\ = 0.114**\ \ \Rsq\ = 0.035***}
\end{axis}
\end{tikzpicture}
\end{document}
